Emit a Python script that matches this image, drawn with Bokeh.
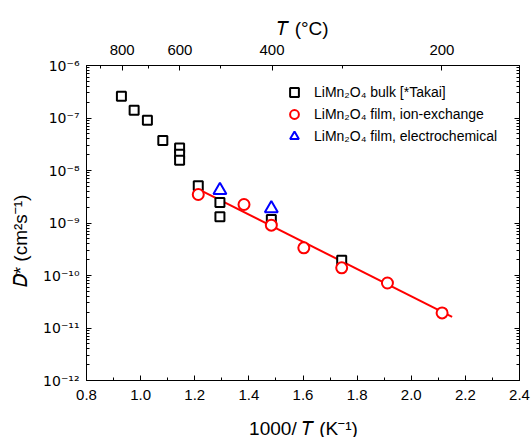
import math
from bokeh.plotting import figure
from bokeh.models import (LogAxis, LinearAxis, FixedTicker, Range1d, Legend,
                          LegendItem, PrintfTickFormatter)
from bokeh.embed import file_html
from bokeh.resources import INLINE

# ---------------- data ----------------
bulk_x = [0.929, 0.976, 1.025, 1.082, 1.144, 1.144, 1.144, 1.213, 1.293, 1.293, 1.483, 1.743]
bulk_D = [2.6e-7, 1.41e-7, 9.1e-8, 3.73e-8, 2.69e-8, 2.04e-8, 1.57e-8, 5.1e-9, 2.45e-9, 1.31e-9, 1.17e-9, 1.95e-10]

ion_x = [1.213, 1.382, 1.483, 1.603, 1.743, 1.912, 2.114]
ion_D = [3.49e-9, 2.25e-9, 9.1e-10, 3.36e-10, 1.40e-10, 7.2e-11, 1.94e-11]

ec_x = [1.293, 1.483]
ec_D = [4.2e-9, 1.89e-9]

fit_x = [1.222, 2.151]
fit_D = [4.2e-9, 1.63e-11]

x_ticks = [0.8, 1.0, 1.2, 1.4, 1.6, 1.8, 2.0, 2.2, 2.4]
x_minor = [0.9, 1.1, 1.3, 1.5, 1.7, 1.9, 2.1, 2.3]
y_decades = [1e-12, 1e-11, 1e-10, 1e-9, 1e-8, 1e-7, 1e-6]
y_tick_labels = ["10⁻¹²", "10⁻¹¹", "10⁻¹⁰", "10⁻⁹", "10⁻⁸", "10⁻⁷", "10⁻⁶"]
top_T = [800, 600, 400, 200]
top_T_labels = ["800", "600", "400", "200"]
top_T_minor = [900, 700, 500, 300]

legend_labels = ["LiMn₂O₄ bulk [*Takai]", "LiMn₂O₄ film, ion-exchange",
                 "LiMn₂O₄ film, electrochemical"]

x_title = "1000/ 𝑇 (K⁻¹)"
top_title = "𝑇 (°C)"
y_title = "𝐷* (cm²s⁻¹)" + "\u00a0" * 7

# ---------------- figure ----------------
FONT = "Liberation Sans"
L, T_ = 86, 65
FW, FH = 433, 315
R = 532 - L - FW
B = 437 - T_ - FH

p = figure(frame_width=FW, frame_height=FH, min_border_left=L, min_border_top=T_,
           min_border_right=R, min_border_bottom=B,
           x_range=Range1d(0.8, 2.4), y_range=Range1d(1e-12, 1e-6),
           y_axis_type="log", output_backend="svg", toolbar_location=None)
p.grid.visible = False
p.outline_line_color = "black"
p.outline_line_width = 1
p.background_fill_color = "white"
p.border_fill_color = "white"

y_minor = [k * d for d in y_decades[:-1] for k in range(2, 10)]


def style_axis(ax, label_size="15px"):
    ax.axis_line_color = "black"
    ax.axis_line_width = 1
    ax.major_tick_line_color = "black"
    ax.minor_tick_line_color = "black"
    ax.major_tick_in = 5
    ax.major_tick_out = 0
    ax.minor_tick_in = 3
    ax.minor_tick_out = 0
    ax.major_label_text_font = FONT
    ax.major_label_text_font_size = label_size
    ax.major_label_text_color = "black"
    ax.axis_label_text_font = FONT
    ax.axis_label_text_font_size = "19px"
    ax.axis_label_text_font_style = "normal"
    ax.axis_label_text_color = "black"


# bottom axis
xa = p.xaxis[0]
xa.ticker = FixedTicker(ticks=x_ticks, minor_ticks=x_minor)
xa.formatter = PrintfTickFormatter(format="%.1f")
style_axis(xa)
xa.major_label_standoff = 9
xa.axis_label = x_title
xa.axis_label_standoff = 15

# left axis
ya = p.yaxis[0]
ya.ticker = FixedTicker(ticks=y_decades, minor_ticks=y_minor)
ya.major_label_overrides = {v: s for v, s in zip(y_decades, y_tick_labels)}
style_axis(ya, "14px")
ya.major_label_text_font = "DejaVu Sans"
ya.major_label_standoff = 7
ya.axis_label = y_title
ya.axis_label_standoff = 9

# right axis
ra = LogAxis(ticker=FixedTicker(ticks=y_decades, minor_ticks=y_minor))
style_axis(ra, "0px")
ra.major_label_text_alpha = 0
p.add_layout(ra, "right")

# top axis (temperature in °C)
top_pos = [1000.0 / (t + 273.15) for t in top_T]
top_minor_pos = [1000.0 / (t + 273.15) for t in top_T_minor]
ta = LinearAxis(ticker=FixedTicker(ticks=top_pos, minor_ticks=top_minor_pos))
ta.major_label_overrides = {v: s for v, s in zip(top_pos, top_T_labels)}
style_axis(ta)
ta.major_label_standoff = 11
ta.axis_label = top_title
ta.axis_label_standoff = 3
p.add_layout(ta, "above")

# ---------------- glyphs ----------------
p.line(fit_x, fit_D, line_color="#ff0000", line_width=2)
r_sq = p.scatter(bulk_x, bulk_D, marker="square", size=9, line_color="black",
                 fill_color="white", line_width=2)
r_ci = p.scatter(ion_x, ion_D, marker="circle", size=11, line_color="#ff0000",
                 fill_color="white", line_width=2)
r_tr = p.scatter(ec_x, ec_D, marker="triangle", size=13, line_color="#0000ff",
                 fill_color="white", line_width=2)

legend = Legend(items=[LegendItem(label=legend_labels[0], renderers=[r_sq]),
                       LegendItem(label=legend_labels[1], renderers=[r_ci]),
                       LegendItem(label=legend_labels[2], renderers=[r_tr])],
                location=(197, 233), orientation="vertical",
                glyph_width=22, glyph_height=22, label_height=22, spacing=0,
                label_standoff=9, padding=0, margin=0,
                background_fill_alpha=0, border_line_alpha=0,
                label_text_font=FONT, label_text_font_size="14px",
                label_text_color="black")
p.add_layout(legend)

open("out.html", "w").write(file_html(p, INLINE))
